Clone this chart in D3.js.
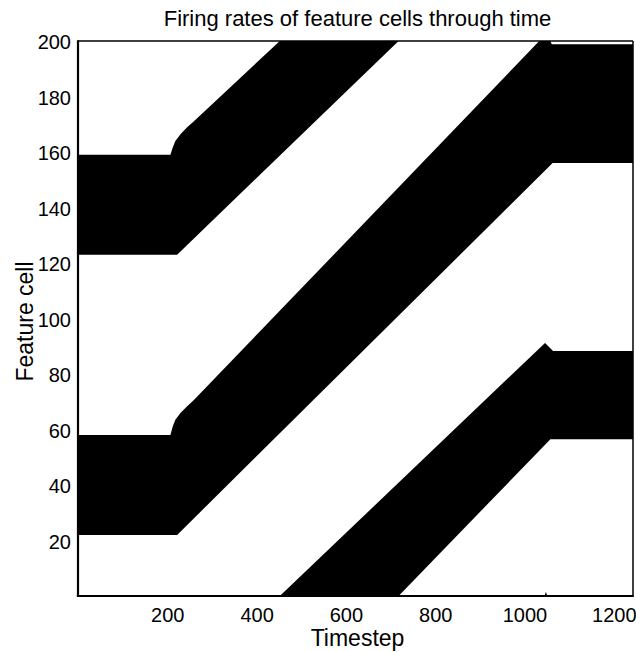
<!DOCTYPE html>
<html>
<head>
<meta charset="utf-8">
<script src="https://cdn.jsdelivr.net/npm/d3@7"></script>
<style>
  html, body { margin: 0; padding: 0; background: #fff; }
  svg { display: block; }
  text { font-family: "Liberation Sans", Arial, Helvetica, sans-serif; fill: #000; }
</style>
</head>
<body>
<svg id="chart" width="636" height="652"></svg>
<script>
// Active (firing) regions of the feature-cell population, as [timestep, cell] outlines.
// Upper bump: cells ~124-160 at rest, then drifting upward off the top of the ring.
const upperBump = [
  [0.5, 123.5], [222, 123.5], [718, 200.5], [452, 200.5],
  [259, 171.5], [245, 169.5], [230, 167], [218, 164.5], [212, 162], [207, 159.5],
  [0.5, 159.5]
];
// Middle bump: cells ~23-59 at rest, drifts up to cells ~157-200 and settles.
const middleBump = [
  [0.5, 22.5], [222, 22.5], [1063, 156.5], [1245, 156.5],
  [1245, 199.3], [1061, 199.3], [1058, 200.5], [1033, 200.5],
  [259, 71], [245, 69], [230, 66.5], [218, 64], [212, 61.5], [207, 58.5],
  [0.5, 58.5]
];
// Lower bump: the upper bump wrapping round from cell 1, settling at cells ~57-89.
const lowerBump = [
  [452, 0.5], [1046, 91.7], [1064, 88.8], [1245, 88.8],
  [1245, 57], [1058, 57], [718, 0.5]
];
// Small wrap-around blip at the bottom where the middle bump overshoots cell 200.
const wrapBlip = [[1045, 0.5], [1048, 2], [1051, 0.5]];

const activeRegions = [upperBump, middleBump, lowerBump, wrapBlip];

const timeDomain = [0, 1243];
const cellDomain = [0.5, 200.5];
const xTicks = [200, 400, 600, 800, 1000, 1200];
const yTicks = [20, 40, 60, 80, 100, 120, 140, 160, 180, 200];

const titleText = "Firing rates of feature cells through time";
const xLabel = "Timestep";
const yLabel = "Feature cell";

const svg = d3.select("#chart");
const plotLeft = 78, plotRight = 633, plotTop = 41, plotBottom = 596;

const x = d3.scaleLinear().domain(timeDomain).range([plotLeft, plotRight]);
const y = d3.scaleLinear().domain(cellDomain).range([plotBottom, plotTop]);

const line = d3.line().x(d => x(d[0])).y(d => y(d[1])).curve(d3.curveLinearClosed);

const plot = svg.append("g");
plot.append("clipPath").attr("id", "plot-clip")
  .append("rect").attr("x", plotLeft).attr("y", plotTop)
  .attr("width", plotRight - plotLeft).attr("height", plotBottom - plotTop);

plot.append("g").attr("clip-path", "url(#plot-clip)")
  .selectAll("path").data(activeRegions).join("path")
  .attr("d", line)
  .attr("fill", "#000")
  .attr("stroke", "none");

// Axes frame: heavier left and bottom edges, lighter top and right
const frame = svg.append("g").attr("stroke", "#000").attr("fill", "none");
frame.append("line").attr("x1", plotLeft).attr("x2", plotRight)
  .attr("y1", plotTop).attr("y2", plotTop).attr("stroke-width", 1.5);
frame.append("line").attr("x1", plotRight).attr("x2", plotRight)
  .attr("y1", plotTop).attr("y2", plotBottom).attr("stroke-width", 1.5);
frame.append("line").attr("x1", plotLeft).attr("x2", plotLeft)
  .attr("y1", plotTop - 0.75).attr("y2", plotBottom + 1.1).attr("stroke-width", 2.2);
frame.append("line").attr("x1", plotLeft - 1.1).attr("x2", plotRight + 0.75)
  .attr("y1", plotBottom).attr("y2", plotBottom).attr("stroke-width", 2.2);

const xAxis = svg.append("g")
  .attr("transform", `translate(0,${plotBottom})`)
  .call(d3.axisBottom(x).tickValues(xTicks).tickFormat(d3.format("d"))
    .tickSize(0).tickPadding(12));
xAxis.select(".domain").remove();
xAxis.selectAll("text").style("font-size", "20px")
  .style("font-family", '"Liberation Sans", Arial, sans-serif');

const yAxis = svg.append("g")
  .attr("transform", `translate(${plotLeft},0)`)
  .call(d3.axisLeft(y).tickValues(yTicks).tickFormat(d3.format("d"))
    .tickSize(0).tickPadding(7));
yAxis.select(".domain").remove();
yAxis.selectAll("text").style("font-size", "20px")
  .style("font-family", '"Liberation Sans", Arial, sans-serif');

svg.append("text")
  .attr("x", (plotLeft + plotRight) / 2 + 2).attr("y", 26)
  .attr("text-anchor", "middle")
  .style("font-size", "22px")
  .text(titleText);

svg.append("text")
  .attr("x", (plotLeft + plotRight) / 2 + 2).attr("y", 646)
  .attr("text-anchor", "middle")
  .style("font-size", "23px")
  .text(xLabel);

svg.append("text")
  .attr("transform", `translate(33,${(plotTop + plotBottom) / 2 + 3}) rotate(-90)`)
  .attr("text-anchor", "middle")
  .style("font-size", "23px")
  .text(yLabel);
</script>
</body>
</html>
